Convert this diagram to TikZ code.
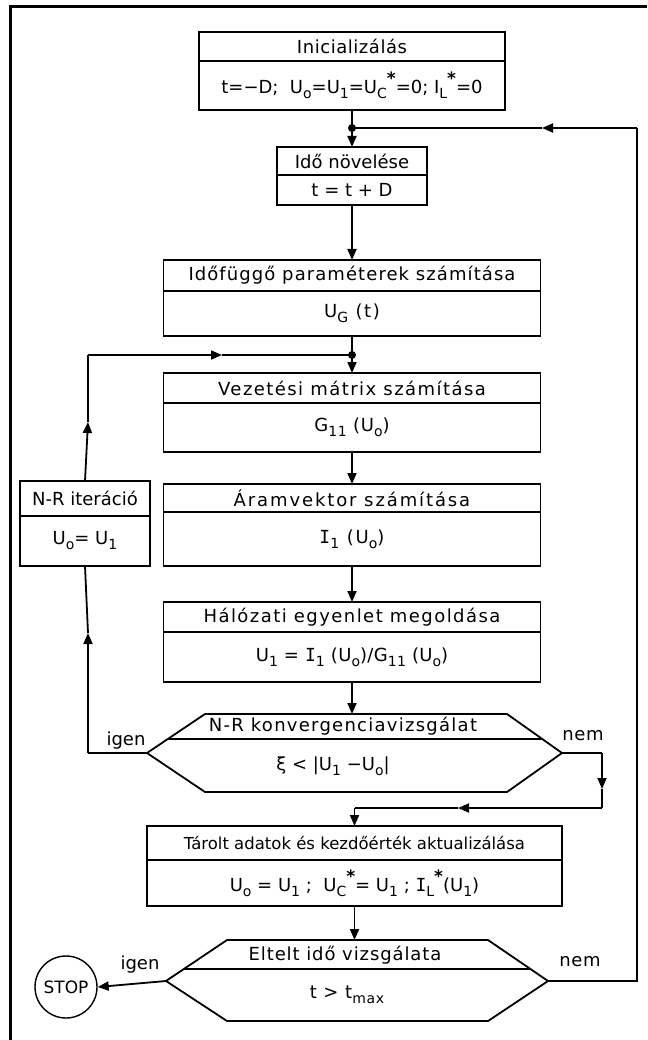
\documentclass[tikz,border=0pt]{standalone}
\usepackage{fontspec}
\setmainfont{DejaVu Sans}
\newfontfamily\serI{DejaVu Sans Mono}
\usetikzlibrary{arrows.meta}
\newcommand\lo[1]{\raisebox{-0.28em}{\fontsize{14}{14}\selectfont #1}}
\newcommand\st{\raisebox{0.5em}{\fontsize{17}{17}\selectfont\bfseries *}}
\newcommand\II{{\serI I}}
\tikzset{
  tr/.style={font=\fontsize{18}{20}\selectfont\addfontfeature{LetterSpace=#1}},
  tr/.default=0,
  box/.style={draw, line width=1.8pt, inner sep=0pt, outer sep=0pt, anchor=north},
  ln/.style={line width=1.8pt},
  arr/.style={ln, -{Triangle[length=11pt,width=9pt]}},
  dot/.style={circle, fill, inner sep=0pt, minimum size=8pt}
}
\begin{document}
\begin{tikzpicture}[x=1pt, y=-1pt]
\useasboundingbox (0,0) rectangle (647,1040);
% frame
\draw[line width=3pt] (10,1040) -- (10,7) -- (647,7);

% boxes
\node[box, tr=3, minimum width=306pt, minimum height=29pt] (b1t) at (352,32) {Inicializálás};
\node[box, tr=0, minimum width=306pt, minimum height=49pt] (b1b) at (b1t.south) {t=−D;\ \ U\lo{o}=U\lo{1}=U\lo{C}\st=0;\ I\lo{L}\st=0};

\node[box, tr=0, minimum width=150pt, minimum height=28pt] (b2t) at (352,147) {Idő növelése};
\node[box, tr=0, minimum width=150pt, minimum height=30pt] (b2b) at (b2t.south) {t = t + D};

\node[box, tr=6, minimum width=377pt, minimum height=31pt] (b3t) at (352,260) {Időfüggő paraméterek számítása};
\node[box, tr=9, minimum width=377pt, minimum height=45pt] (b3b) at (b3t.south) {U\lo{G} (t)};

\node[box, tr=8, minimum width=377pt, minimum height=30pt] (b4t) at (352,373) {Vezetési mátrix számítása};
\node[box, tr=4, minimum width=377pt, minimum height=49pt] (b4b) at (b4t.south) {G\lo{11} (U\lo{o})};

\node[box, tr=10.5, minimum width=377pt, minimum height=28pt] (b5t) at (352,484) {Áramvektor számítása};
\node[box, tr=10.5, minimum width=377pt, minimum height=54pt] (b5b) at (b5t.south) {\II\lo{1} (U\lo{o})};

\node[box, tr=8, minimum width=377pt, minimum height=30pt] (b6t) at (352,602) {Hálózati egyenlet megoldása};
\node[box, tr=2, minimum width=377pt, minimum height=50pt] (b6b) at (b6t.south) {U\lo{1} = \II\lo{1} (U\lo{o})/G\lo{11} (U\lo{o})};

\node[box, tr=0, minimum width=130pt, minimum height=35pt] (nrt) at (85,481) {N-R iteráció};
\node[box, tr=0, minimum width=130pt, minimum height=50pt] (nrb) at (nrt.south) {U\lo{o}= U\lo{1}};

\node[box, font=\fontsize{16.5}{19}\selectfont, minimum width=415pt, minimum height=34pt] (b7t) at (354.5,826) {Tárolt adatok és kezdőérték aktualizálása};
\node[box, tr=0, minimum width=415pt, minimum height=46pt] (b7b) at (b7t.south) {U\lo{o} = U\lo{1} ;\ \ U\lo{C}\st= U\lo{1} ; \II\lo{L}\st (U\lo{1})};

% decision 1
\coordinate (d1L) at (147,753);
\coordinate (d1R) at (562,753);
\coordinate (d1N) at (352,714);
\draw[ln, line join=miter] (d1L) -- (205,714) -- (507,714) -- (d1R) -- (507,792) -- (205,792) -- cycle;
\draw[ln] (167.8,739) -- (542.3,739);
\node[tr=7] (d1t) at (343,726) {N-R konvergenciavizsgálat};
\node[tr=0] (d1c) at (333,766) {ξ < |U\lo{1} −U\lo{o}|};

% decision 2
\coordinate (d2L) at (166,981);
\coordinate (d2R) at (548,981);
\coordinate (d2N) at (354.5,940);
\draw[ln, line join=miter] (d2L) -- (227,940) -- (488,940) -- (d2R) -- (488,1021) -- (227,1021) -- cycle;
\draw[ln] (183.9,969) -- (530.4,969);
\node[tr=5] (d2t) at (345,955) {Eltelt idő vizsgálata};
\node[tr=5] (d2c) at (347,995) {t > t\lo{max}};

% stop
\node[draw, circle, line width=1.4pt, minimum size=62pt, inner sep=0pt, font=\fontsize{17}{19}\selectfont] (stop) at (66,987) {STOP};

% labels
\node[tr=0] (ig1) at (126,741) {igen};
\node[tr=4] (nm1) at (583,736) {nem};
\node[tr=0] (ig2) at (140,965) {igen};
\node[tr=4] (nm2) at (580,962) {nem};

% main trunk
\coordinate (j1) at (352,128);
\coordinate (j2) at (352,355);
\draw[ln] (b1b.south) -- (j1);
\draw[arr] (j1) -- (b2t.north);
\draw[arr] (b2b.south) -- (b3t.north);
\draw[ln] (b3b.south) -- (j2);
\draw[arr] (j2) -- (b4t.north);
\draw[arr] (b4b.south) -- (b5t.north);
\draw[arr] (b5b.south) -- (b6t.north);
\draw[arr] (b6b.south) -- (d1N);
\draw[arr] (b7b.south) -- (d2N);
\node[dot] (j1d) at (j1) {};
\node[dot] (j2d) at (j2) {};

% igen loop of decision 1
\coordinate (c1) at (88,753);
\coordinate (a1) at (88,633);
\coordinate (a2) at (88,422);
\coordinate (c2) at (88,355);
\coordinate (a3) at (222,355);
\draw[ln] (d1L) -- (c1);
\draw[arr] (c1) -- (a1);
\draw[ln] (a1) -- (nrb.south);
\draw[arr] (nrt.north) -- (a2);
\draw[ln] (a2) -- (c2);
\draw[arr] (c2) -- (a3);
\draw[ln] (a3) -- (j2);

% nem branch of decision 1
\coordinate (c3) at (602,753);
\coordinate (a4) at (602,789);
\coordinate (c4) at (602,808);
\coordinate (a5) at (458,808);
\coordinate (c5) at (354.5,808);
\draw[ln] (d1R) -- (c3);
\draw[arr] (c3) -- (a4);
\draw[ln] (a4) -- (c4);
\draw[arr] (c4) -- (a5);
\draw[ln] (a5) -- (c5);
\draw[arr] (c5) -- (b7t.north);

% decision 2 branches
\draw[arr] (d2L) -- (stop.east);
\coordinate (c6) at (637,981);
\coordinate (c7) at (637,128);
\coordinate (a6) at (542,128);
\draw[ln] (d2R) -- (c6) -- (c7);
\draw[arr] (c7) -- (a6);
\draw[ln] (a6) -- (j1);
\end{tikzpicture}
\end{document}
